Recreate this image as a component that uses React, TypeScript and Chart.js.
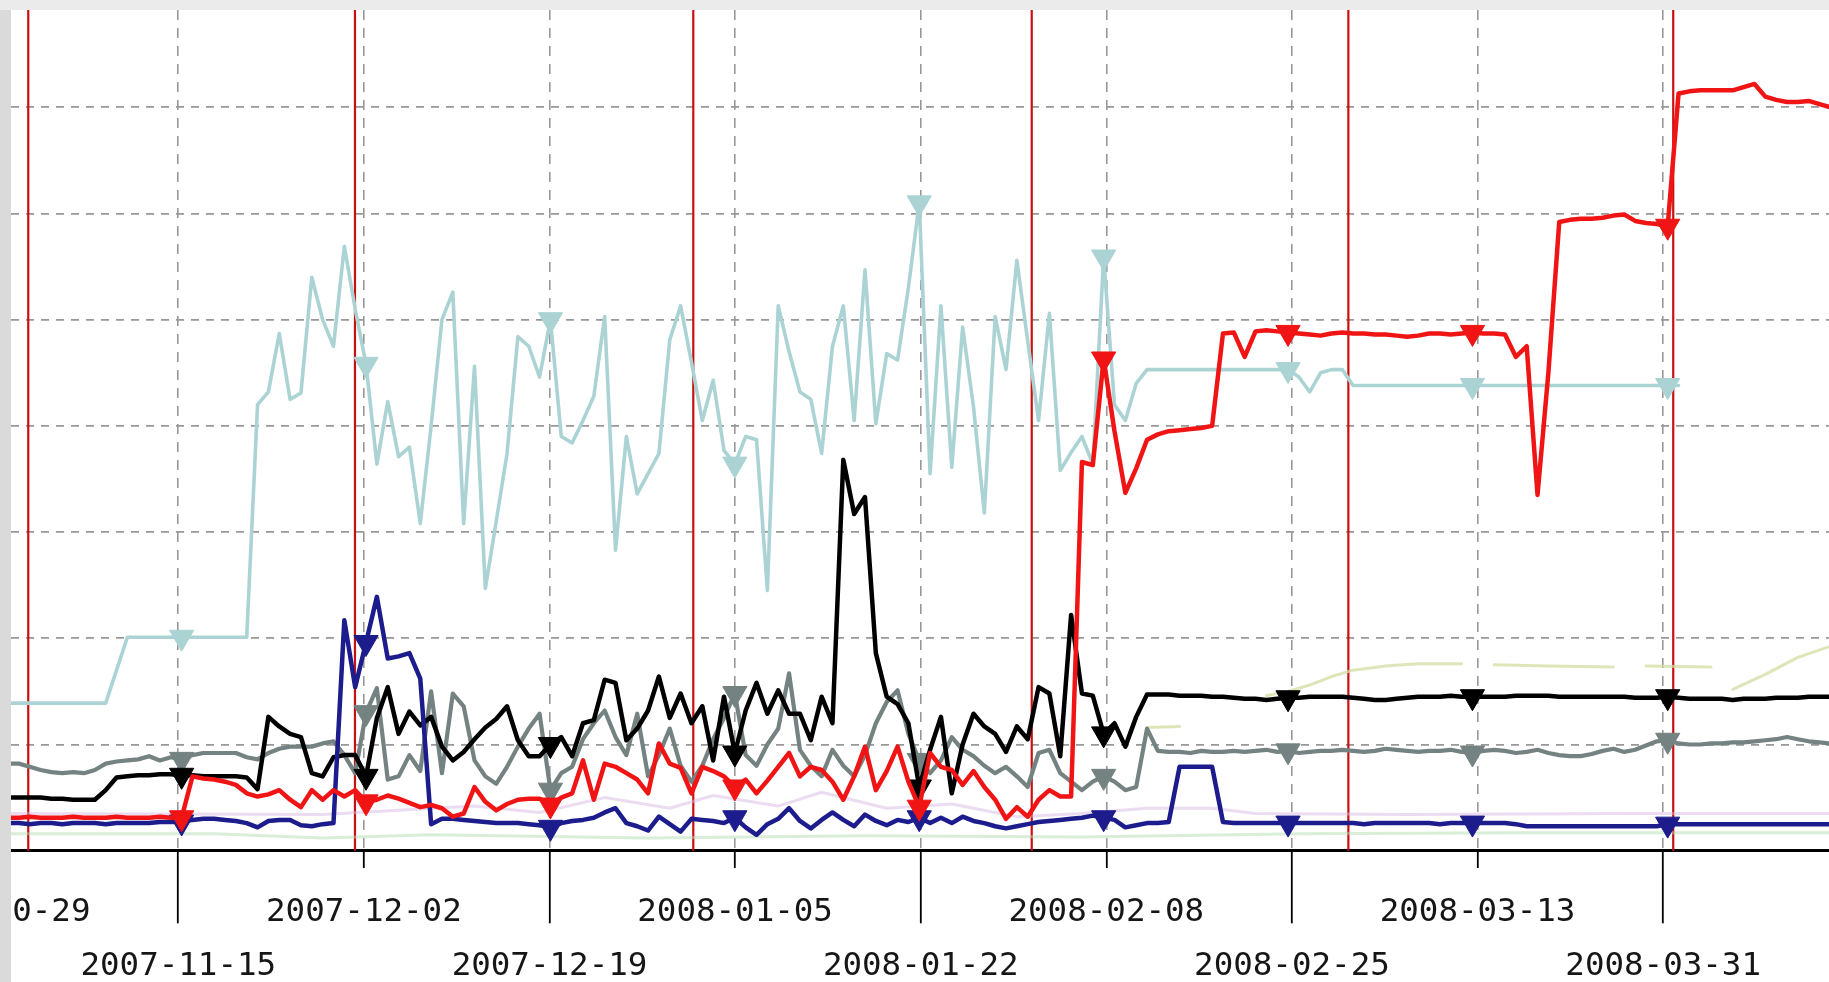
import React, { useEffect, useRef } from 'react';
import { Chart, registerables } from 'chart.js';

Chart.register(...registerables);

// x values are days since 2007-10-29; samples are taken once a day (about 10:00)
const TICK_LABELS = [
  '2007-10-29', '2007-11-15', '2007-12-02', '2007-12-19', '2008-01-05',
  '2008-01-22', '2008-02-08', '2008-02-25', '2008-03-13', '2008-03-31',
];
const TICK_SPAN_DAYS = 154; // 2007-10-29 .. 2008-03-31, ticks evenly spaced
const MONTH_LINES = [3.28, 33.4, 64.59, 95.79, 124.98, 154.93]; // Nov 1 .. Apr 1
const SAMPLE_OFFSET = 0.42;
const FIRST_DAY = 1;
const X_MIN = 1.69;
const X_MAX = 169.29;
const Y_MAX = 79.16;
const Y_STEP = 10;

const RED = [
  3.1, 3.1, 3.2, 3.1, 3.1, 3.1, 3.2, 3.1, 3.1, 3.1, 3.2, 3.1, 3.1, 3.1, 3.2, 3.1, 3.1,
  7.0, 6.8, 6.7, 6.5, 6.2, 5.4, 5.1, 5.3, 5.7, 4.8, 4.1, 5.7, 4.8, 5.7, 5.1, 5.7, 4.6, 4.8, 5.2, 4.9, 4.5, 4.1, 4.3,
  4.0, 3.2, 3.5, 6.0, 4.6, 3.8, 4.4, 4.8, 4.9, 4.9, 4.3, 5.0, 5.4, 8.5, 4.8, 8.2, 7.9, 7.3, 6.7, 5.4,
  10.1, 8.2, 7.8, 5.4, 7.9, 7.5, 7.0, 6.0, 6.7, 5.4, 6.6, 7.9, 9.2, 7.0, 7.9, 7.6, 6.5, 4.8, 7.0, 9.8,
  5.7, 7.5, 9.8, 6.5, 4.1, 9.2, 7.9, 7.6, 6.2, 7.5, 6.0, 4.8, 3.0, 4.1, 3.2, 4.8, 5.7, 5.1, 5.1, 36.6,
  36.3, 46.3, 39.5, 33.7, 36.0, 38.7, 39.2, 39.5, 39.6, 39.7, 39.8, 40.0, 48.7, 48.8, 46.5, 48.9, 49.0, 48.9, 48.8, 48.7,
  48.6, 48.5, 48.7, 48.8, 48.7, 48.7, 48.6, 48.6, 48.5, 48.4, 48.5, 48.7, 48.7, 48.6, 48.7, 48.8, 48.7, 48.7, 48.6, 46.5,
  47.5, 33.5, 45.0, 59.2, 59.4, 59.5, 59.5, 59.6, 59.8, 59.9, 59.3, 59.1, 59.0, 58.8, 71.3, 71.5, 71.6, 71.6, 71.6, 71.6,
  71.9, 72.2, 71.0, 70.7, 70.5, 70.5, 70.6, 70.3, 70.0, 69.8,
];

const BLACK = [
  5.0, 5.0, 5.0, 5.0, 4.9, 4.9, 4.8, 4.8, 4.8, 5.7, 6.9, 7.0, 7.1, 7.1, 7.2, 7.2, 7.1, 7.1, 7.0, 7.0,
  7.0, 7.0, 6.9, 5.8, 12.6, 11.7, 11.0, 10.7, 7.3, 7.0, 8.8, 9.0, 9.0, 7.0, 12.5, 15.4, 11.0, 13.1, 11.8, 12.6,
  9.8, 8.5, 9.3, 10.5, 11.6, 12.4, 13.6, 10.4, 8.9, 8.9, 10.0, 10.7, 8.9, 12.0, 12.3, 16.1, 15.8, 10.4, 11.5, 13.2,
  16.4, 12.5, 14.8, 12.0, 13.6, 8.5, 14.5, 9.2, 13.2, 15.8, 12.9, 15.1, 12.9, 12.9, 10.4, 14.5, 12.0, 36.8, 31.7, 33.3,
  18.6, 14.5, 13.8, 12.0, 6.0, 9.5, 12.6, 5.4, 10.0, 12.9, 11.7, 11.0, 9.3, 11.7, 10.5, 15.4, 14.8, 8.9, 22.2, 14.8,
  14.6, 11.0, 12.0, 9.8, 12.6, 14.7, 14.7, 14.7, 14.6, 14.6, 14.6, 14.5, 14.5, 14.4, 14.3, 14.3, 14.2, 14.3, 14.4, 14.4,
  14.5, 14.5, 14.5, 14.5, 14.4, 14.3, 14.2, 14.2, 14.3, 14.4, 14.5, 14.5, 14.5, 14.6, 14.5, 14.5, 14.5, 14.5, 14.5, 14.6,
  14.6, 14.6, 14.6, 14.5, 14.5, 14.5, 14.5, 14.5, 14.5, 14.5, 14.4, 14.4, 14.4, 14.5, 14.4, 14.3, 14.3, 14.3, 14.3, 14.2,
  14.3, 14.3, 14.3, 14.4, 14.4, 14.4, 14.5, 14.5, 14.5, 14.5,
];

const GRAY = [
  8.2, 8.2, 7.9, 7.6, 7.4, 7.3, 7.4, 7.3, 7.6, 8.2, 8.4, 8.5, 8.6, 8.9, 8.5, 8.8, 8.6, 9.0, 9.2, 9.2,
  9.2, 9.2, 8.8, 8.6, 9.2, 9.6, 9.8, 9.8, 9.8, 10.1, 10.3, 9.0, 7.3, 13.0, 15.3, 6.7, 7.0, 9.0, 7.5, 15.0,
  7.3, 14.8, 13.6, 8.5, 7.0, 6.3, 7.9, 9.8, 11.5, 12.9, 5.7, 7.3, 7.9, 10.5, 12.0, 13.2, 10.7, 9.0, 12.9, 7.0,
  9.0, 11.5, 8.0, 6.5, 8.0, 10.5, 12.5, 14.8, 9.0, 8.0, 10.0, 11.5, 16.7, 9.5, 8.0, 7.0, 9.5, 8.0, 7.0, 9.0,
  12.0, 14.0, 15.1, 11.0, 8.5, 7.3, 8.5, 10.7, 9.5, 8.9, 8.0, 7.3, 7.9, 7.0, 6.0, 9.2, 9.5, 7.3, 6.5, 5.7,
  6.5, 7.0, 6.5, 5.7, 6.0, 11.5, 9.4, 9.3, 9.3, 9.2, 9.4, 9.3, 9.3, 9.4, 9.3, 9.4, 9.5, 9.3, 9.4, 9.2,
  9.3, 9.4, 9.4, 9.5, 9.4, 9.3, 9.4, 9.6, 9.5, 9.4, 9.3, 9.4, 9.4, 9.5, 9.3, 9.2, 9.4, 9.5, 9.4, 9.2,
  9.3, 9.5, 9.2, 9.0, 8.9, 8.9, 9.1, 9.4, 9.6, 9.3, 9.5, 9.9, 10.3, 10.4, 10.1, 10.0, 10.0, 10.1, 10.1, 10.2,
  10.2, 10.3, 10.4, 10.5, 10.7, 10.5, 10.3, 10.2, 10.1, 10.1,
];

const NAVY = [
  2.6, 2.6, 2.5, 2.6, 2.6, 2.5, 2.6, 2.6, 2.6, 2.5, 2.6, 2.6, 2.6, 2.6, 2.7, 2.7, 2.7, 2.9, 3.0, 3.0,
  2.9, 2.8, 2.6, 2.2, 2.8, 2.9, 2.9, 2.4, 2.3, 2.5, 2.6, 21.7, 15.4, 19.6, 23.9, 18.1, 18.3, 18.6, 16.2, 2.5,
  3.0, 3.0, 2.9, 2.8, 2.7, 2.6, 2.6, 2.6, 2.5, 2.4, 2.2, 2.6, 2.8, 2.9, 3.1, 3.6, 4.0, 2.6, 2.3, 1.9,
  3.2, 2.5, 1.8, 3.0, 2.9, 2.8, 2.6, 3.1, 2.2, 1.5, 2.5, 3.0, 4.0, 2.8, 2.1, 2.9, 3.6, 2.9, 2.3, 3.4,
  2.8, 2.4, 2.9, 2.7, 3.1, 2.6, 3.1, 2.6, 3.2, 2.8, 2.6, 2.3, 2.1, 2.3, 2.5, 2.7, 2.8, 2.9, 3.0, 3.1,
  3.3, 3.1, 2.9, 2.2, 2.4, 2.6, 2.6, 2.7, 7.9, 7.9, 7.9, 7.9, 2.7, 2.6, 2.6, 2.6, 2.6, 2.6, 2.6, 2.6,
  2.6, 2.6, 2.6, 2.6, 2.6, 2.5, 2.6, 2.6, 2.6, 2.6, 2.6, 2.6, 2.5, 2.6, 2.6, 2.6, 2.6, 2.6, 2.6, 2.5,
  2.3, 2.3, 2.3, 2.3, 2.3, 2.3, 2.3, 2.3, 2.3, 2.3, 2.3, 2.3, 2.3, 2.5, 2.5, 2.5, 2.5, 2.5, 2.5, 2.5,
  2.5, 2.5, 2.5, 2.5, 2.5, 2.5, 2.5, 2.5, 2.5, 2.5,
];

const CYAN = [
  13.9, 13.9, 13.9, 13.9, 13.9, 13.9, 13.9, 13.9, 13.9, 13.9, 17.0, 20.1, 20.1, 20.1, 20.1, 20.1, 20.1, 20.1, 20.1, 20.1,
  20.1, 20.1, 20.1, 42.0, 43.2, 48.7, 42.5, 43.1, 54.0, 50.0, 47.5, 56.9, 51.0, 45.8, 36.4, 42.3, 37.1, 38.0, 30.8, 40.0,
  50.0, 52.6, 30.8, 45.6, 24.7, 31.0, 37.4, 48.4, 47.5, 44.6, 50.0, 39.0, 38.4, 40.5, 42.8, 50.3, 28.3, 39.0, 33.6, 35.5,
  37.4, 48.1, 51.3, 46.0, 40.5, 44.3, 37.7, 36.4, 39.0, 38.7, 24.5, 51.3, 47.0, 43.2, 42.5, 37.4, 47.5, 51.3, 40.5, 54.7,
  40.2, 46.8, 46.2, 53.0, 61.0, 35.5, 51.3, 36.1, 49.3, 41.8, 31.8, 50.3, 45.3, 55.6, 48.0, 40.5, 50.6, 35.8, 37.5, 39.0,
  36.4, 55.9, 42.0, 40.5, 44.0, 45.3, 45.3, 45.3, 45.3, 45.3, 45.3, 45.3, 45.3, 45.3, 45.3, 45.3, 45.3, 45.3, 45.3, 44.6,
  43.2, 45.0, 45.3, 45.3, 43.8, 43.8, 43.8, 43.8, 43.8, 43.8, 43.8, 43.8, 43.8, 43.8, 43.8, 43.8, 43.8, 43.8, 43.8, 43.8,
  43.8, 43.8, 43.8, 43.8, 43.8, 43.8, 43.8, 43.8, 43.8, 43.8, 43.8, 43.8, 43.8, 43.8, 43.8,
];

// faint series, read as [day, value]; null marks a gap
const PALE_YELLOW: [number, number | null][] = [
  [106, 11.6], [109, 11.7], [110, null], [117, 14.6], [119, 15.0], [121, 15.6], [123, 16.4], [125, 17.0],
  [128, 17.4], [131, 17.6], [135, 17.6], [136, null], [138, 17.5], [143, 17.4], [149, 17.3], [150, null],
  [152, 17.4], [158, 17.3], [159, null], [160, 15.2], [163, 16.6], [166, 18.2], [170, 19.6],
];
const PALE_LAVENDER: [number, number | null][] = [
  [1, 3.5], [30, 3.4], [44, 4.2], [50, 3.6], [56, 5.0], [62, 4.0], [66, 5.2], [72, 4.2], [76, 5.5],
  [82, 4.0], [88, 4.4], [94, 3.2], [100, 3.5], [106, 4.0], [112, 4.0], [116, 3.5], [130, 3.4], [150, 3.5], [170, 3.5],
];
const PALE_GREEN: [number, number | null][] = [
  [1, 1.6], [20, 1.6], [30, 1.2], [40, 1.5], [60, 1.2], [80, 1.4], [100, 1.3], [120, 1.6], [140, 1.7], [170, 1.7],
];

const MARKER_R = 14;

export default function App() {
  const ref = useRef<HTMLCanvasElement>(null);

  useEffect(() => {
    const canvas = ref.current;
    if (!canvas) return;
    const step = TICK_SPAN_DAYS / (TICK_LABELS.length - 1);
    const tickDays = TICK_LABELS.map((_, k) => step * k);
    const markerIdx = new Set(tickDays.map((t) => Math.round(t - SAMPLE_OFFSET) - FIRST_DAY));

    const toPoints = (arr: number[]) => arr.map((y, i) => ({ x: FIRST_DAY + i + SAMPLE_OFFSET, y }));
    const pairPoints = (arr: [number, number | null][]) => arr.map(([x, y]) => ({ x: x + SAMPLE_OFFSET, y }));

    const line = (label: string, data: any[], color: string, width: number, markers: boolean) => ({
      label,
      data,
      borderColor: color,
      backgroundColor: color,
      borderWidth: width,
      tension: 0,
      fill: false,
      spanGaps: false,
      borderJoinStyle: 'round',
      borderCapStyle: 'round',
      pointStyle: 'triangle',
      pointRotation: 180,
      pointRadius: (c: any) => (markers && markerIdx.has(c.dataIndex) ? MARKER_R : 0),
      pointBackgroundColor: color,
      pointBorderColor: color,
      pointBorderWidth: 1,
    });

    const monthLines = {
      id: 'monthLines',
      beforeDatasetsDraw(chart: any) {
        const { ctx, chartArea, scales } = chart;
        ctx.save();
        ctx.strokeStyle = '#c81010';
        ctx.lineWidth = 2.2;
        for (const d of MONTH_LINES) {
          const px = scales.x.getPixelForValue(d);
          ctx.beginPath();
          ctx.moveTo(px, chartArea.top);
          ctx.lineTo(px, chartArea.bottom);
          ctx.stroke();
        }
        ctx.restore();
      },
    };

    const chart = new Chart(canvas, {
      type: 'line',
      data: {
        datasets: [
          line('red', toPoints(RED), '#f01414', 4.5, true),
          line('navy', toPoints(NAVY), '#1c1c8c', 4.5, true),
          line('black', toPoints(BLACK), '#000000', 4.5, true),
          line('gray', toPoints(GRAY), '#758282', 4.2, true),
          line('yellow', pairPoints(PALE_YELLOW), 'rgba(210,222,160,0.75)', 3, false),
          line('lavender', pairPoints(PALE_LAVENDER), 'rgba(215,185,228,0.5)', 3, false),
          line('green', pairPoints(PALE_GREEN), 'rgba(180,220,180,0.5)', 3, false),
          line('cyan', toPoints(CYAN), '#acd3d3', 3.6, true),
        ] as any,
      },
      options: {
        responsive: false,
        animation: false,
        events: [],
        layout: { padding: 0 },
        plugins: { legend: { display: false }, tooltip: { enabled: false } },
        scales: {
          x: {
            type: 'linear',
            min: X_MIN,
            max: X_MAX,
            afterBuildTicks: (scale: any) => {
              scale.ticks = tickDays.map((v) => ({ value: v }));
            },
            afterFit: (scale: any) => {
              scale.height = 131.3;
              scale.paddingLeft = 0;
              scale.paddingRight = 0;
            },
            ticks: {
              autoSkip: false,
              maxRotation: 0,
              minRotation: 0,
              padding: -38,
              color: '#161616',
              font: { family: "'DejaVu Sans Mono', monospace", size: 32.5, lineHeight: '54.2px' },
              callback: (_v: any, i: number) => (i % 2 === 0 ? TICK_LABELS[i] : ['', TICK_LABELS[i]]),
            },
            grid: {
              color: '#989898',
              lineWidth: 1.6,
              tickLength: 72.6,
              tickColor: '#000000',
              tickWidth: 1.8,
              tickBorderDash: (c: any) => (c.index % 2 === 0 ? [16, 400] : []),
            } as any,
            border: { display: true, color: '#000000', width: 3, dash: [10, 8] },
          },
          y: {
            min: 0,
            max: Y_MAX,
            afterFit: (scale: any) => {
              scale.width = 0;
            },
            ticks: { display: false, stepSize: Y_STEP, includeBounds: false },
            grid: { color: '#989898', lineWidth: 1.8, drawTicks: false },
            border: { display: false, dash: [8, 7] },
          },
        },
      } as any,
      plugins: [monthLines],
    });
    return () => chart.destroy();
  }, []);

  return (
    <div style={{ position: 'fixed', left: 0, top: 0, width: 1829, height: 982, background: '#dadada', overflow: 'hidden' }}>
      <div style={{ position: 'absolute', left: 0, top: 0, width: 1829, height: 10, background: '#ebebeb' }} />
      <canvas
        ref={ref}
        width={1818}
        height={972}
        style={{ position: 'absolute', left: 11, top: 10, width: 1818, height: 972, background: '#ffffff' }}
      />
    </div>
  );
}
